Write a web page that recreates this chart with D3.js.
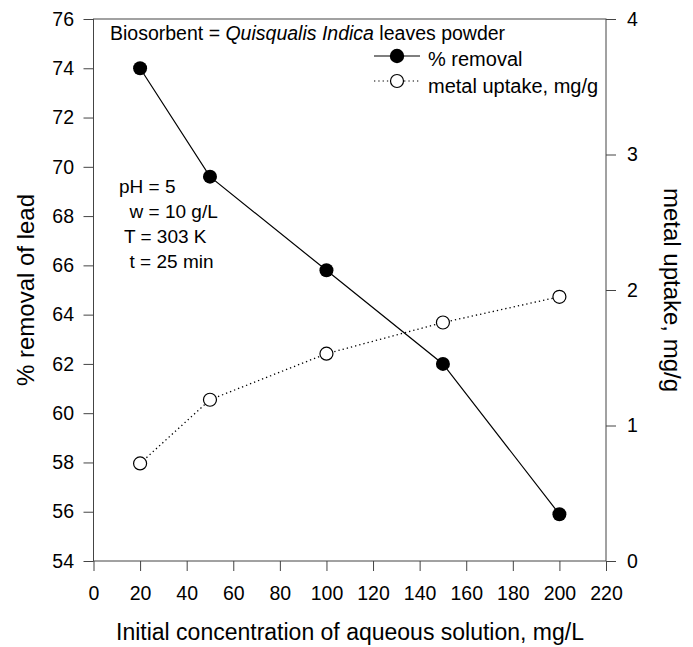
<!DOCTYPE html>
<html>
<head>
<meta charset="utf-8">
<script src="https://cdn.jsdelivr.net/npm/d3@7"></script>
<style>
  body { margin: 0; background: #fff; }
  text { font-family: "Liberation Sans", Arial, sans-serif; fill: #000; }
</style>
</head>
<body>
<script>
'use strict';
// data
const concentration = [20, 50, 100, 150, 200];
const percentRemoval = [74.0, 69.6, 65.8, 62.0, 55.9];
const metalUptake = [0.72, 1.19, 1.53, 1.76, 1.95];
const xTicks = [0, 20, 40, 60, 80, 100, 120, 140, 160, 180, 200, 220];
const leftTicks = [54, 56, 58, 60, 62, 64, 66, 68, 70, 72, 74, 76];
const rightTicks = [0, 1, 2, 3, 4];
const conditions = ["pH = 5", "  w = 10 g/L", " T = 303 K", "  t = 25 min"];

const W = 693, H = 647;
const box = { left: 93.5, right: 606, top: 19, bottom: 561 };

const svg = d3.select('body').append('svg')
  .attr('width', W).attr('height', H);

const x = d3.scaleLinear().domain([0, 220]).range([box.left, box.right]);
const yL = d3.scaleLinear().domain([54, 76]).range([box.bottom, box.top]);
const yR = d3.scaleLinear().domain([0, 4]).range([box.bottom, box.top]);

// frame
svg.append('rect')
  .attr('x', box.left).attr('y', box.top)
  .attr('width', box.right - box.left).attr('height', box.bottom - box.top)
  .attr('fill', 'none').attr('stroke', '#444').attr('stroke-width', 1);

function styleAxis(g) {
  g.select('.domain').remove();
  g.selectAll('line').attr('stroke', '#444');
  g.selectAll('text').style('font-size', '19.5px')
    .style('font-family', '"Liberation Sans", Arial, sans-serif');
}

svg.append('g')
  .attr('transform', 'translate(0,' + box.bottom + ')')
  .call(d3.axisBottom(x).tickValues(xTicks).tickSize(10).tickPadding(15).tickSizeOuter(0))
  .call(styleAxis);

svg.append('g')
  .attr('transform', 'translate(' + box.left + ',0)')
  .call(d3.axisLeft(yL).tickValues(leftTicks).tickSize(10).tickPadding(9.5).tickSizeOuter(0))
  .call(styleAxis);

svg.append('g')
  .attr('transform', 'translate(' + box.right + ',0)')
  .call(d3.axisRight(yR).tickValues(rightTicks).tickFormat(d3.format('d'))
    .tickSize(10).tickPadding(11).tickSizeOuter(0))
  .call(styleAxis);

// axis titles
svg.append('text')
  .attr('x', 350).attr('y', 640)
  .attr('text-anchor', 'middle').style('font-size', '23px')
  .text('Initial concentration of aqueous solution, mg/L');

svg.append('text')
  .attr('transform', 'translate(34,' + (box.top + box.bottom) / 2 + ') rotate(-90)')
  .attr('text-anchor', 'middle').style('font-size', '24px')
  .text('% removal of lead');

svg.append('text')
  .attr('transform', 'translate(664,' + (box.top + box.bottom) / 2 + ') rotate(90)')
  .attr('text-anchor', 'middle').style('font-size', '24px')
  .text('metal uptake, mg/g');

// series
const removal = concentration.map((c, i) => ({ c: c, v: percentRemoval[i] }));
const uptake = concentration.map((c, i) => ({ c: c, v: metalUptake[i] }));

svg.append('path')
  .datum(uptake)
  .attr('fill', 'none').attr('stroke', '#000').attr('stroke-width', 1.3)
  .attr('stroke-dasharray', '1.3,3')
  .attr('d', d3.line().x(d => x(d.c)).y(d => yR(d.v)));

svg.append('path')
  .datum(removal)
  .attr('fill', 'none').attr('stroke', '#000').attr('stroke-width', 1.2)
  .attr('d', d3.line().x(d => x(d.c)).y(d => yL(d.v)));

svg.selectAll('.up').data(uptake).enter().append('circle')
  .attr('cx', d => x(d.c)).attr('cy', d => yR(d.v)).attr('r', 6.5)
  .attr('fill', '#fff').attr('stroke', '#000').attr('stroke-width', 1.2);

svg.selectAll('.rm').data(removal).enter().append('circle')
  .attr('cx', d => x(d.c)).attr('cy', d => yL(d.v)).attr('r', 7)
  .attr('fill', '#000');

// top note
const note = svg.append('text').attr('x', 110).attr('y', 40).style('font-size', '19.5px');
note.append('tspan').text('Biosorbent = ');
note.append('tspan').style('font-style', 'italic').text('Quisqualis Indica');
note.append('tspan').text(' leaves powder');

// legend
const leg = svg.append('g');
leg.append('line').attr('x1', 374).attr('x2', 420).attr('y1', 56).attr('y2', 56)
  .attr('stroke', '#000').attr('stroke-width', 1.2);
leg.append('circle').attr('cx', 397).attr('cy', 56).attr('r', 7.2).attr('fill', '#000');
leg.append('text').attr('x', 428).attr('y', 66).style('font-size', '20px').text('% removal');
leg.append('line').attr('x1', 374).attr('x2', 420).attr('y1', 81).attr('y2', 81)
  .attr('stroke', '#000').attr('stroke-width', 1.2).attr('stroke-dasharray', '1.3,3');
leg.append('circle').attr('cx', 397).attr('cy', 81).attr('r', 6.5)
  .attr('fill', '#fff').attr('stroke', '#000').attr('stroke-width', 1.2);
leg.append('text').attr('x', 428).attr('y', 93).style('font-size', '20px').text('metal uptake, mg/g');

// conditions
svg.selectAll('.cond').data(conditions).enter().append('text')
  .attr('x', 119).attr('y', (d, i) => 193 + i * 25)
  .style('font-size', '19px')
  .attr('xml:space', 'preserve')
  .text(d => d);
</script>
</body>
</html>
